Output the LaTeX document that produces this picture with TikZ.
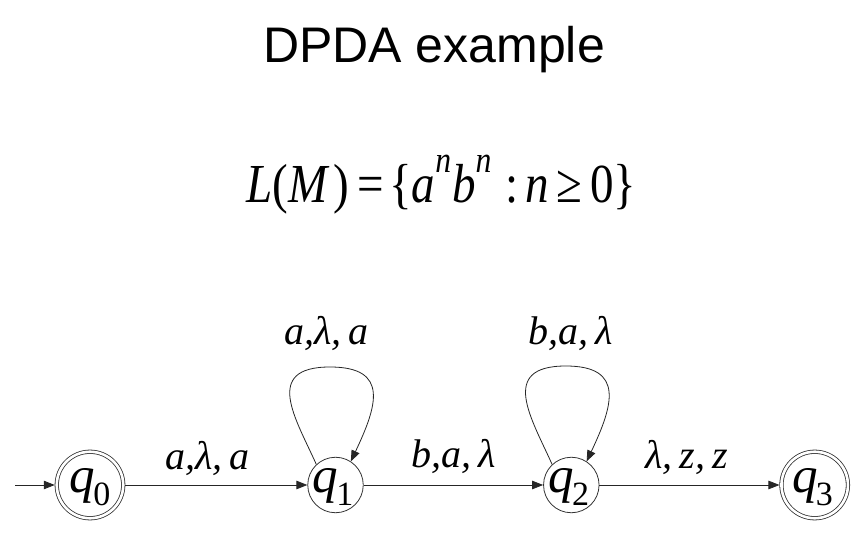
\documentclass[tikz,border=0pt]{standalone}
\usepackage{graphicx}
\usepackage{fontspec}
\setmainfont{Liberation Serif}
\newfontfamily\arialfont{Liberation Sans}
\usetikzlibrary{arrows.meta,calc}
\newcommand\qsub[1]{{\fontsize{51}{51}\selectfont\itshape q}\kern-2pt\raisebox{-13pt}{\fontsize{34}{34}\selectfont #1}}
\newcommand\supn{\raisebox{30pt}{\fontsize{37}{37}\selectfont\itshape n}}
\tikzset{
  st/.style={circle, draw=black!80, line width=0.8pt, minimum size=55.5pt, inner sep=0pt},
  acc/.style={circle, draw=black!80, line width=0.8pt, double=white, double distance=2.6pt, minimum size=66.5pt, inner sep=0pt, outer sep=2pt},
  edge/.style={draw=black!85, line width=0.8pt, -{Triangle[length=11pt,width=8.5pt]}},
  lab/.style={anchor=base, inner sep=0pt, font=\fontsize{40}{40}\selectfont\itshape},
  stlab/.style={anchor=base, inner sep=0pt},
}
\begin{document}
\begin{tikzpicture}[x=1pt,y=1pt]
\useasboundingbox (0,0) rectangle (868,541);
% title and language
\node[anchor=base, inner sep=0pt, font=\arialfont\fontsize{50}{50}\selectfont] (title) at (434,478) {DPDA example};
\node[anchor=base, inner sep=0pt, font=\fontsize{55}{55}\selectfont] (lang) at (441.7,338)
  {\scalebox{0.855}[1]{\textit{L}(\textit{M}\kern4pt)\kern10pt=\kern6pt\{\textit{a}\supn\kern1pt\textit{b}\supn\kern16pt:\kern9pt\textit{n}\kern9pt≥\kern9pt0\}}};
% states
\node[acc] (q0) at (90,56) {};
\node[st]  (q1) at (335.5,56) {};
\node[st]  (q2) at (571.3,56) {};
\node[acc] (q3) at (814.7,56) {};
\node[stlab] (t0) at ($(q0)+(0,-8)$) {\qsub{0}};
\node[stlab] (t1) at ($(q1)+(-2.5,-8)$) {\qsub{1}};
\node[stlab] (t2) at ($(q2)+(-2.5,-8)$) {\qsub{2}};
\node[stlab] (t3) at ($(q3)+(-2,-8)$) {\qsub{3}};
% initial arrow
\coordinate (init) at (15,56);
\draw[edge] (init) -- (q0);
% transitions
\draw[edge] (q0) -- (q1);
\draw[edge] (q1) -- (q2);
\draw[edge] (q2) -- (q3);
\draw[edge] (q1.133) .. controls +(-20,45) and +(-68,0) .. ($(q1)+(-5.5,118)$) .. controls +(60,0) and +(26,55) .. (q1.57);
\draw[edge] (q2.133) .. controls +(-20,45) and +(-68,0) .. ($(q2)+(-5.5,119)$) .. controls +(60,0) and +(26,55) .. (q2.57);
% labels
\node[lab] (l01) at (207.5,71) {a,λ,\hspace{0.18em}a};
\node[lab] (l11) at (326.5,196) {a,λ,\hspace{0.18em}a};
\node[lab] (l12) at (453.5,73) {b,a,\hspace{0.18em}λ};
\node[lab] (l22) at (570.5,196) {b,a,\hspace{0.18em}λ};
\node[lab] (l23) at (686.5,72) {λ,\hspace{0.18em}z,\hspace{0.18em}z};
\end{tikzpicture}
\end{document}
